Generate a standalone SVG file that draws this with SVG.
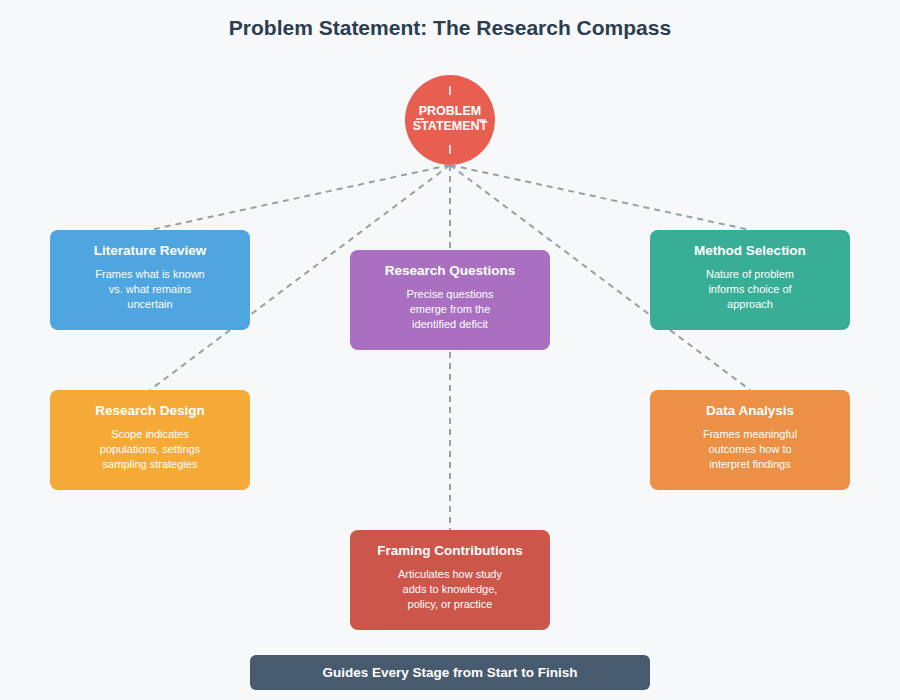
<svg xmlns="http://www.w3.org/2000/svg" width="900" height="700" viewBox="0 0 900 700">
<style>
text{font-family:"Liberation Sans",Arial,sans-serif;text-anchor:middle}
.t{font-size:13.5px;font-weight:bold;fill:#fff}
.d{font-size:11px;fill:#fff}
.c{stroke:#95a1a8;stroke-width:2;stroke-dasharray:6,5;fill:none}
</style>
<rect width="900" height="700" fill="#f6f8fa"/>
<text x="450" y="35" font-size="21" font-weight="bold" fill="#2c3e50">Problem Statement: The Research Compass</text>
<g id="connectors">
<line class="c" x1="450" y1="165" x2="150" y2="230"/>
<line class="c" x1="450" y1="165" x2="750" y2="230"/>
<line class="c" x1="450" y1="165" x2="150" y2="390"/>
<line class="c" x1="450" y1="165" x2="750" y2="390"/>
<line class="c" x1="450" y1="165" x2="450" y2="530"/>
</g>
<g id="center">
<circle cx="450" cy="120" r="45" fill="#e85e50"/>
<g stroke="#fff" stroke-width="1.5">
<line x1="450" y1="86" x2="450" y2="95"/>
<line x1="450" y1="145" x2="450" y2="154"/>
<line x1="416" y1="119" x2="424" y2="119"/>
<line x1="477" y1="120" x2="486" y2="120"/>
</g>
<text x="450" y="115" font-size="12.5" font-weight="bold" fill="#fff">PROBLEM</text>
<text x="450" y="130" font-size="12.5" font-weight="bold" fill="#fff">STATEMENT</text>
</g>
<g id="lit"><rect x="50" y="230" width="200" height="100" rx="8" fill="#4fa5e0"/>
<text class="t" x="150" y="255">Literature Review</text>
<text class="d" x="150" y="278">Frames what is known</text><text class="d" x="150" y="293">vs. what remains</text><text class="d" x="150" y="308">uncertain</text></g>
<g id="rq"><rect x="350" y="250" width="200" height="100" rx="8" fill="#a970c2"/>
<text class="t" x="450" y="275">Research Questions</text>
<text class="d" x="450" y="298">Precise questions</text><text class="d" x="450" y="313">emerge from the</text><text class="d" x="450" y="328">identified deficit</text></g>
<g id="method"><rect x="650" y="230" width="200" height="100" rx="8" fill="#38ae96"/>
<text class="t" x="750" y="255">Method Selection</text>
<text class="d" x="750" y="278">Nature of problem</text><text class="d" x="750" y="293">informs choice of</text><text class="d" x="750" y="308">approach</text></g>
<g id="design"><rect x="50" y="390" width="200" height="100" rx="8" fill="#f5aa38"/>
<text class="t" x="150" y="415">Research Design</text>
<text class="d" x="150" y="438">Scope indicates</text><text class="d" x="150" y="453">populations, settings</text><text class="d" x="150" y="468">sampling strategies</text></g>
<g id="data"><rect x="650" y="390" width="200" height="100" rx="8" fill="#eb9045"/>
<text class="t" x="750" y="415">Data Analysis</text>
<text class="d" x="750" y="438">Frames meaningful</text><text class="d" x="750" y="453">outcomes how to</text><text class="d" x="750" y="468">interpret findings</text></g>
<g id="framing"><rect x="350" y="530" width="200" height="100" rx="8" fill="#cd564b"/>
<text class="t" x="450" y="555">Framing Contributions</text>
<text class="d" x="450" y="578">Articulates how study</text><text class="d" x="450" y="593">adds to knowledge,</text><text class="d" x="450" y="608">policy, or practice</text></g>
<g id="banner"><rect x="250" y="655" width="400" height="35" rx="6" fill="#475a6e"/>
<text x="450" y="677" font-size="13.5" font-weight="bold" fill="#fff">Guides Every Stage from Start to Finish</text></g>
</svg>
